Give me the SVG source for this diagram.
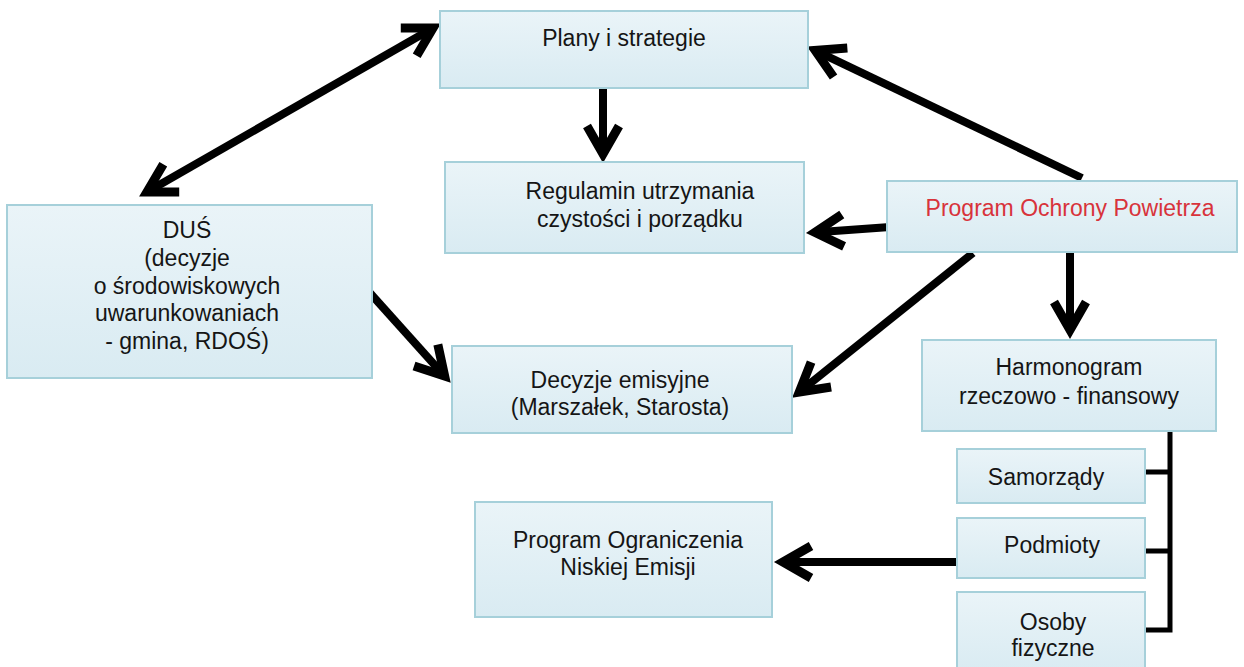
<svg xmlns="http://www.w3.org/2000/svg" width="1244" height="667" viewBox="0 0 1244 667">
  <style>
    .box { fill: url(#bg); stroke: #a6d0da; stroke-width: 2; }
    .t { font-family: "Liberation Sans", Arial, sans-serif; font-size: 23px; fill: #151515; text-anchor: middle; }
    .red { fill: #d8333b; }
    .con { fill: none; stroke: #000; stroke-width: 8; }
    .thin { fill: none; stroke: #000; stroke-width: 5; }
  </style>
  <defs>
    <linearGradient id="bg" x1="0" y1="0" x2="0" y2="1">
      <stop offset="0" stop-color="#eaf4f8"/>
      <stop offset="1" stop-color="#d9ebf2"/>
    </linearGradient>
    <marker id="ah" markerUnits="userSpaceOnUse" markerWidth="60" markerHeight="60" refX="-2" refY="0" orient="auto-start-reverse" overflow="visible">
      <path d="M-28,-16 L0,0 L-28,16" fill="none" stroke="#000" stroke-width="9" stroke-linejoin="miter" stroke-miterlimit="10"/>
    </marker>
  </defs>
  <rect width="1244" height="667" fill="#ffffff"/>

  <g id="connectors">
    <line class="con" x1="148.7" y1="191" x2="431.3" y2="29" marker-start="url(#ah)" marker-end="url(#ah)"/>
    <line class="con" x1="603" y1="88" x2="603" y2="152" marker-end="url(#ah)"/>
    <line class="con" x1="1082" y1="178" x2="817" y2="51.3" marker-end="url(#ah)"/>
    <line class="con" x1="890" y1="227" x2="817" y2="232.3" marker-end="url(#ah)"/>
    <line class="con" x1="973" y1="253" x2="800.8" y2="390.8" marker-end="url(#ah)"/>
    <line class="con" x1="1070" y1="252" x2="1070" y2="328" marker-end="url(#ah)"/>
    <line class="con" x1="370" y1="293" x2="443.3" y2="374.6" marker-end="url(#ah)"/>
    <line class="con" x1="957" y1="562" x2="785" y2="562" stroke-width="7" marker-end="url(#ah)"/>
    <path class="thin" d="M1170,431 V632.5 M1145,472 H1172.5 M1145,551 H1172.5 M1145,630 H1172.5"/>
  </g>

  <g id="plany">
    <rect class="box" x="440" y="11" width="368" height="77"/>
    <text class="t" x="624" y="46">Plany i strategie</text>
  </g>
  <g id="regulamin">
    <rect class="box" x="445" y="162" width="359" height="91"/>
    <text class="t" x="640" y="199">Regulamin utrzymania</text>
    <text class="t" x="640" y="227">czystości i porządku</text>
  </g>
  <g id="pop">
    <rect class="box" x="887" y="181" width="350" height="71"/>
    <text class="t red" x="1070" y="216">Program Ochrony Powietrza</text>
  </g>
  <g id="dus">
    <rect class="box" x="7" y="205" width="365" height="173"/>
    <text class="t" x="187" y="238">DUŚ</text>
    <text class="t" x="187" y="266">(decyzje</text>
    <text class="t" x="187" y="294">o środowiskowych</text>
    <text class="t" x="187" y="321">uwarunkowaniach</text>
    <text class="t" x="187" y="349">- gmina, RDOŚ)</text>
  </g>
  <g id="decyzje">
    <rect class="box" x="452" y="346" width="340" height="87"/>
    <text class="t" x="620" y="388">Decyzje emisyjne</text>
    <text class="t" x="620" y="415">(Marszałek, Starosta)</text>
  </g>
  <g id="harmonogram">
    <rect class="box" x="922" y="340" width="294" height="91"/>
    <text class="t" x="1069" y="375">Harmonogram</text>
    <text class="t" x="1069" y="404">rzeczowo - finansowy</text>
  </g>
  <g id="samorzady">
    <rect class="box" x="957" y="449" width="188" height="54"/>
    <text class="t" x="1046" y="485">Samorządy</text>
  </g>
  <g id="podmioty">
    <rect class="box" x="957" y="518" width="188" height="60"/>
    <text class="t" x="1052" y="553">Podmioty</text>
  </g>
  <g id="osoby">
    <rect class="box" x="957" y="592" width="188" height="80"/>
    <text class="t" x="1053" y="630">Osoby</text>
    <text class="t" x="1053" y="656">fizyczne</text>
  </g>
  <g id="pone">
    <rect class="box" x="475" y="502" width="297" height="115"/>
    <text class="t" x="628" y="548">Program Ograniczenia</text>
    <text class="t" x="628" y="575">Niskiej Emisji</text>
  </g>
</svg>
